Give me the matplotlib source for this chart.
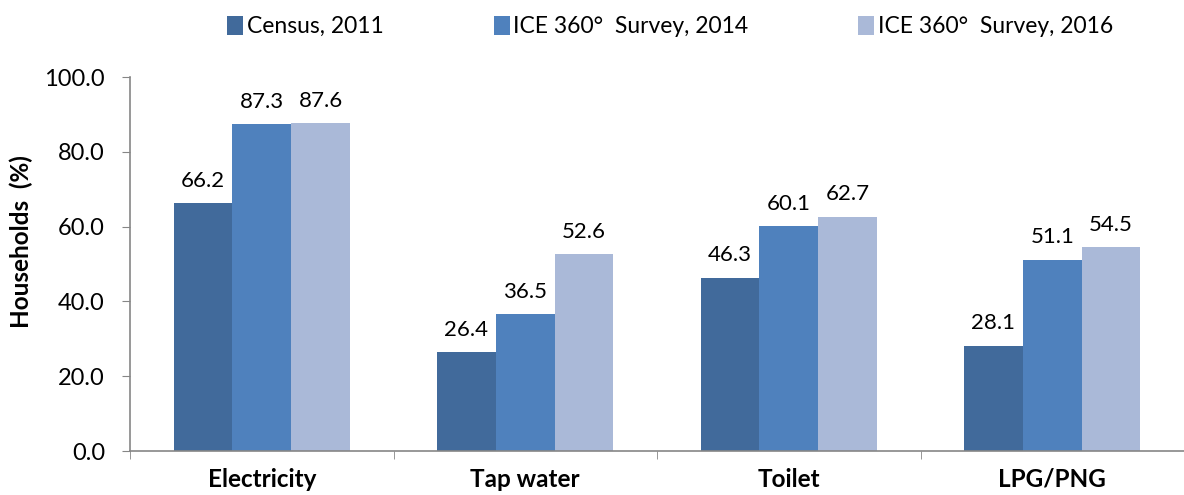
import matplotlib
matplotlib.use("Agg")
import matplotlib.pyplot as plt
import numpy as np
from matplotlib.ticker import FormatStrFormatter

plt.rcParams["font.family"] = ["Lato", "DejaVu Sans"]

categories = ["Electricity", "Tap water", "Toilet", "LPG/PNG"]
series_names = ["Census, 2011", "ICE 360°  Survey, 2014", "ICE 360°  Survey, 2016"]
census_2011 = [66.2, 26.4, 46.3, 28.1]
survey_2014 = [87.3, 36.5, 60.1, 51.1]
survey_2016 = [87.6, 52.6, 62.7, 54.5]
colors = ["#416A9B", "#4F81BD", "#AAB9D8"]

fig = plt.figure(figsize=(11.84, 4.95), dpi=100)
ax = fig.add_axes([130 / 1184, 44 / 495, 1 - 130 / 1184, (451 - 77) / 495])

x = np.arange(len(categories))
width = 0.223
for i, (name, vals) in enumerate(zip(series_names, [census_2011, survey_2014, survey_2016])):
    bars = ax.bar(x + (i - 1) * width, vals, width, color=colors[i], label=name)
    for b, v in zip(bars, vals):
        ax.annotate(f"{v:.1f}", (b.get_x() + b.get_width() / 2, v),
                    xytext=(0, 9), textcoords="offset points",
                    ha="center", va="bottom", fontsize=16)

ax.set_xlim(-0.5, -0.5 + (1184 - 130) / 266)
ax.set_ylim(0, 100)
ax.set_yticks(np.arange(0, 101, 20))
ax.yaxis.set_major_formatter(FormatStrFormatter("%.1f"))
ax.set_xticks(x)
ax.set_xticklabels(categories, fontsize=17.5, fontweight="bold")
ax.set_xticks(np.arange(-0.5, 4, 1), minor=True)
ax.tick_params(axis="x", which="major", length=0, pad=12)
ax.tick_params(axis="x", which="minor", length=6, direction="out", color="#868686")
ax.tick_params(axis="y", labelsize=17, length=6, color="#868686", pad=12)
ax.set_ylabel("Households  (%)", fontsize=17.5, fontweight="bold")
ax.yaxis.set_label_coords(-0.092, 0.56)

for s in ["top", "right"]:
    ax.spines[s].set_visible(False)
for s in ["left", "bottom"]:
    ax.spines[s].set_color("#868686")
    ax.spines[s].set_linewidth(1.2)

fig.legend(loc="upper center", bbox_to_anchor=(0.566, 1.01), ncol=3, frameon=False,
           fontsize=16.5, handlelength=0.7, handleheight=0.9, handletextpad=0.15,
           columnspacing=4.8)

fig.savefig("out.png", dpi=100)
